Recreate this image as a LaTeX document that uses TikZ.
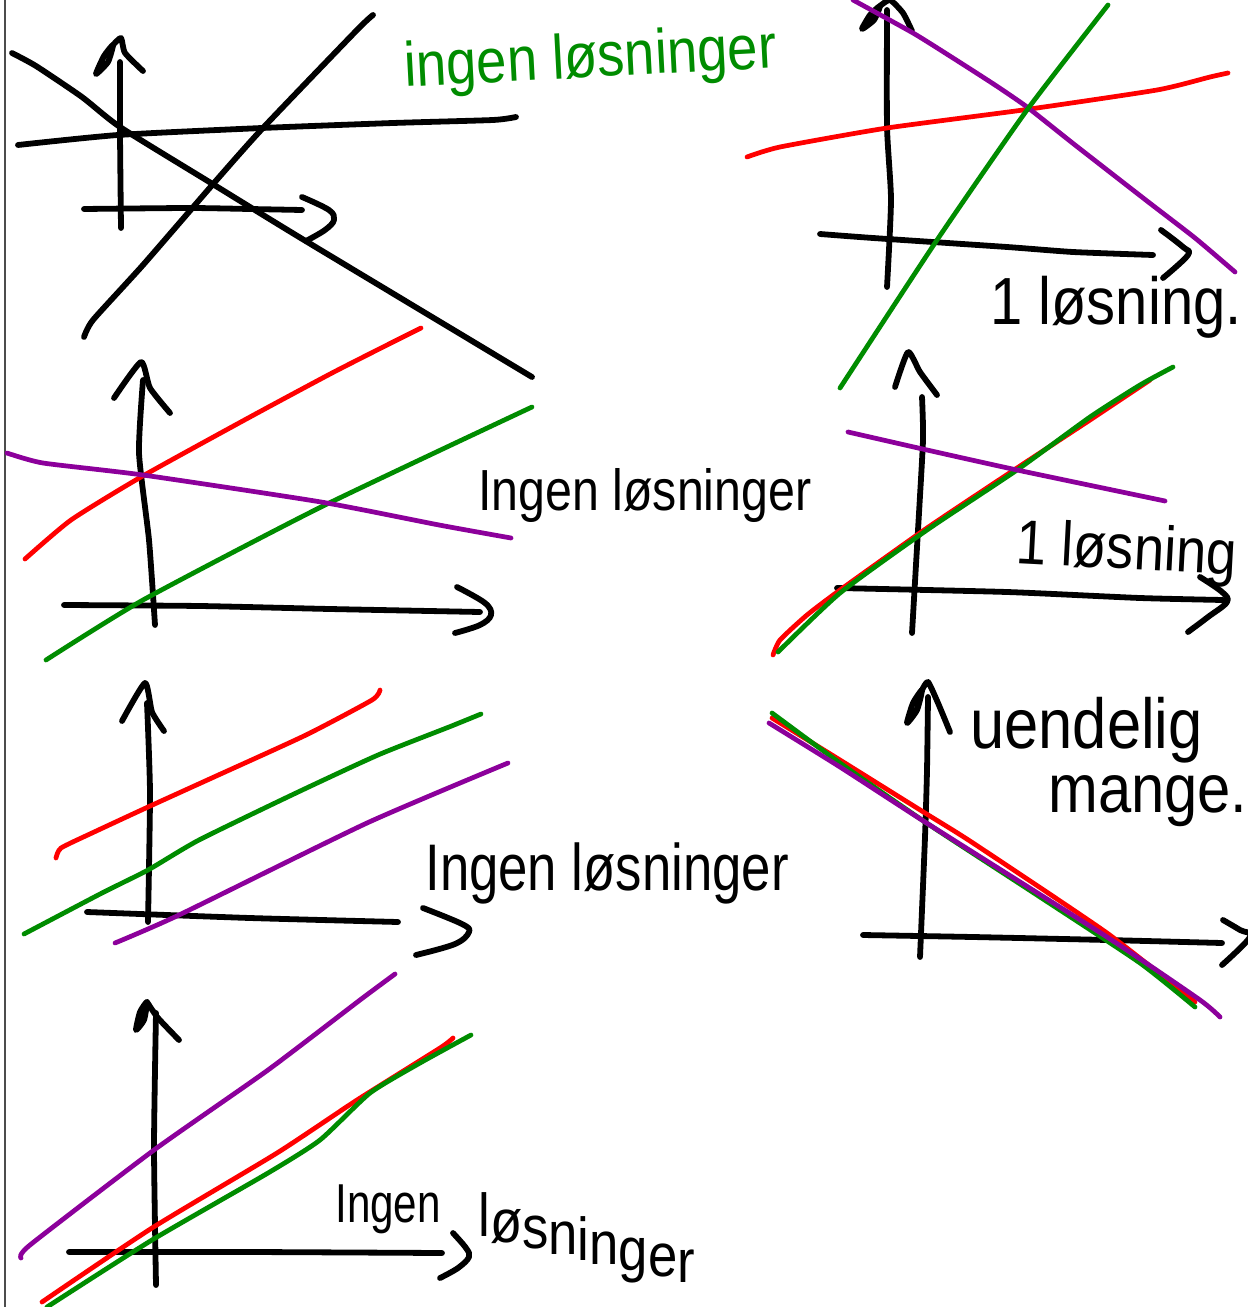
\documentclass[tikz,border=0pt]{standalone}
\usepackage{fontspec}
\setmainfont{Liberation Sans}
\newfontfamily\handfont{Liberation Sans}
\definecolor{hred}{RGB}{255,0,0}
\definecolor{hgreen}{RGB}{0,140,0}
\definecolor{hpurple}{RGB}{140,0,155}
\tikzset{
  ink/.style={line width=3.3pt, line cap=round, line join=round, black},
  pen/.style={line width=2.7pt, line cap=round, line join=round},
  lbl/.style={inner sep=0pt, anchor=base west},
  every plot/.style={smooth, tension=0.35},
}
\newcommand{\hsz}[1]{\handfont\fontsize{#1}{#1}\selectfont}
\newcommand{\dn}[2]{\raisebox{-#1pt}{#2}}
\begin{document}
\begin{tikzpicture}[x=0.02cm, y=-0.02cm]
\useasboundingbox[fill=white] (0,0) rectangle (1247,1307);
% page border
\draw[line width=1.4pt, black!70] (5,0) -- (5,1307);

% ---------- panel 1 (top left) ----------
\draw[ink] plot coordinates {(12,53) (36,66) (82,97) (120,127) (211,183) (304,240) (532,377)};
\draw[ink] plot coordinates {(84,337) (93,320) (143,265) (214,183) (262,129) (357,30) (373,15)};
\draw[ink] plot coordinates {(18,145) (118,135) (262,128) (393,123) (493,120) (516,117)};
\draw[ink] plot coordinates {(121,228) (120,133) (120,62)};
\draw[ink] plot[smooth cycle] coordinates {(96,74) (104,56) (113,45) (108,62)};
\draw[ink] plot coordinates {(113,45) (121,38) (125,53) (143,71)};
\draw[ink] plot coordinates {(84,209) (189,208) (250,209) (302,210)};
\draw[ink] plot[tension=0.6] coordinates {(302,197) (329,210) (334,220) (325,230) (306,241)};
\node[lbl, hgreen, rotate=3, font=\hsz{31}] (t1) at (405,87) {\scalebox{1}[1.15]{ingen løsninger}};

% ---------- panel 2 (top right) ----------
\draw[ink] plot coordinates {(887,287) (891,200) (887,127) (887,10)};
\draw[ink] plot[smooth cycle] coordinates {(862,29) (870,15) (880,6) (874,20)};
\draw[ink] plot coordinates {(880,6) (890,0) (903,13) (912,31)};
\draw[ink] plot coordinates {(820,234) (873,238) (1007,247) (1073,252) (1153,255)};
\draw[ink] plot[tension=0.6] coordinates {(1161,230) (1183,247) (1188,255) (1163,278)};
\draw[pen, hred] plot coordinates {(747,157) (780,147) (887,128) (1023,110) (1157,90) (1210,77) (1228,73)};
\draw[pen, hpurple] plot coordinates {(853,0) (913,33) (953,58) (995,85) (1027,107) (1075,145) (1147,201) (1195,238) (1235,272)};
\draw[pen, hgreen] plot coordinates {(1108,5) (1027,110) (937,240) (840,388)};
\node[lbl, font=\hsz{33}] (t2) at (990,324) {\scalebox{1}[1.15]{1 løsning.}};

% ---------- panel 3 (left, second) ----------
\draw[ink] plot coordinates {(155,625) (149,540) (139,453) (143,380)};
\draw[ink] plot coordinates {(114,398) (141,362) (150,388) (170,413)};
\draw[ink] plot coordinates {(64,605) (200,606) (330,609) (480,612)};
\draw[ink] plot[tension=0.6] coordinates {(457,587) (485,603) (491,615) (480,625) (455,633)};
\draw[pen, hred] plot coordinates {(25,559) (71,520) (141,477) (250,417) (332,373) (393,342) (421,328)};
\draw[pen, hgreen] plot coordinates {(46,660) (143,600) (321,507) (532,407)};
\draw[pen, hpurple] plot coordinates {(7,453) (43,463) (143,475) (321,502) (439,525) (511,538)};
\node[lbl, font=\hsz{27.5}] (t3) at (478,510) {\scalebox{1}[1.2]{Ingen løsninger}};

% ---------- panel 4 (right, second) ----------
\draw[ink] plot coordinates {(912,633) (918,530) (923,440) (922,397)};
\draw[ink] plot coordinates {(895,387) (908,352) (920,372) (937,395)};
\draw[ink] plot coordinates {(837,588) (1007,592) (1140,598) (1223,600)};
\draw[ink] plot[tension=0.6] coordinates {(1200,577) (1222,592) (1227,602) (1208,617) (1188,632)};
\draw[pen, hred] plot coordinates {(773,655) (780,640) (807,615) (840,590) (927,528) (1017,468) (1090,420) (1150,380)};
\draw[pen, hgreen] plot coordinates {(778,652) (840,593) (927,530) (1017,470) (1090,417) (1140,385) (1173,367)};
\draw[pen, hpurple] plot coordinates {(848,432) (927,450) (1017,470) (1165,501)};
\node[lbl, rotate=-3, font=\hsz{31}] (t4) at (1015,563) {\scalebox{1}[1.15]{1 løsning}};

% ---------- panel 5 (left, third) ----------
\draw[ink] plot coordinates {(148,922) (150,793) (147,703)};
\draw[ink] plot coordinates {(122,721) (145,683) (152,712) (164,731)};
\draw[ink] plot coordinates {(87,912) (250,918) (398,922)};
\draw[ink] plot[tension=0.6] coordinates {(423,908) (462,924) (469,932) (455,944) (416,955)};
\draw[pen, hred] plot coordinates {(56,858) (61,848) (92,833) (148,807) (214,777) (306,735) (372,700) (380,690)};
\draw[pen, hgreen] plot coordinates {(24,934) (102,893) (148,870) (199,840) (296,793) (378,755) (449,727) (481,714)};
\draw[pen, hpurple] plot coordinates {(115,943) (179,915) (367,823) (508,763)};
\node[lbl, font=\hsz{30}] (t5) at (425,890) {\scalebox{1}[1.25]{Ingen løsninger}};

% ---------- panel 6 (right, third) ----------
\draw[ink] plot coordinates {(920,957) (925,837) (927,770) (928,697)};
\draw[ink] plot[smooth cycle] coordinates {(907,723) (913,703) (922,690) (917,710)};
\draw[ink] plot coordinates {(922,690) (928,682) (938,703) (950,732)};
\draw[ink] plot coordinates {(863,935) (973,937) (1107,940) (1222,943)};
\draw[ink] plot[tension=0.6] coordinates {(1223,920) (1240,930) (1250,937) (1222,965)};
\draw[pen, hred] plot coordinates {(772,718) (840,760) (925,813) (973,843) (1107,933) (1195,1002)};
\draw[pen, hgreen] plot coordinates {(772,713) (840,763) (925,822) (1040,897) (1140,963) (1195,1007)};
\draw[pen, hpurple] plot coordinates {(769,723) (840,767) (925,822) (1107,937) (1200,1000) (1220,1017)};
\node[lbl, font=\hsz{35}] (t6a) at (970,748) {\scalebox{1}[1.15]{uendelig}};
\node[lbl, font=\hsz{34}] (t6b) at (1048,812) {\scalebox{1}[1.15]{mange.}};

% ---------- panel 7 (bottom left) ----------
\draw[ink] plot coordinates {(156,1285) (154,1147) (156,1013)};
\draw[ink] plot[smooth cycle] coordinates {(136,1030) (140,1012) (147,1002) (144,1020)};
\draw[ink] plot coordinates {(147,1002) (158,1018) (179,1040)};
\draw[ink] plot coordinates {(69,1252) (250,1252) (442,1253)};
\draw[ink] plot[tension=0.6] coordinates {(453,1233) (466,1248) (469,1257) (458,1268) (440,1278)};
\draw[pen, hpurple] plot coordinates {(21,1258) (30,1245) (154,1150) (268,1070) (360,1000) (395,974)};
\draw[pen, hred] plot coordinates {(42,1302) (152,1228) (277,1153) (357,1100) (440,1048) (453,1038)};
\draw[pen, hgreen] plot coordinates {(47,1307) (152,1240) (268,1173) (320,1140) (370,1093) (420,1063) (471,1035)};
\node[lbl, font=\hsz{24}] (t7a) at (335,1222) {\scalebox{1}[1.3]{Ingen}};
\node[lbl, font=\hsz{30}] (t7b) at (478,1236) {\scalebox{1}[1.15]{l\dn{3}{ø}\dn{6}{s}\dn{9}{n}\dn{12}{i}\dn{14}{n}\dn{17}{g}\dn{20}{e}\dn{23}{r}}};
\end{tikzpicture}
\end{document}
